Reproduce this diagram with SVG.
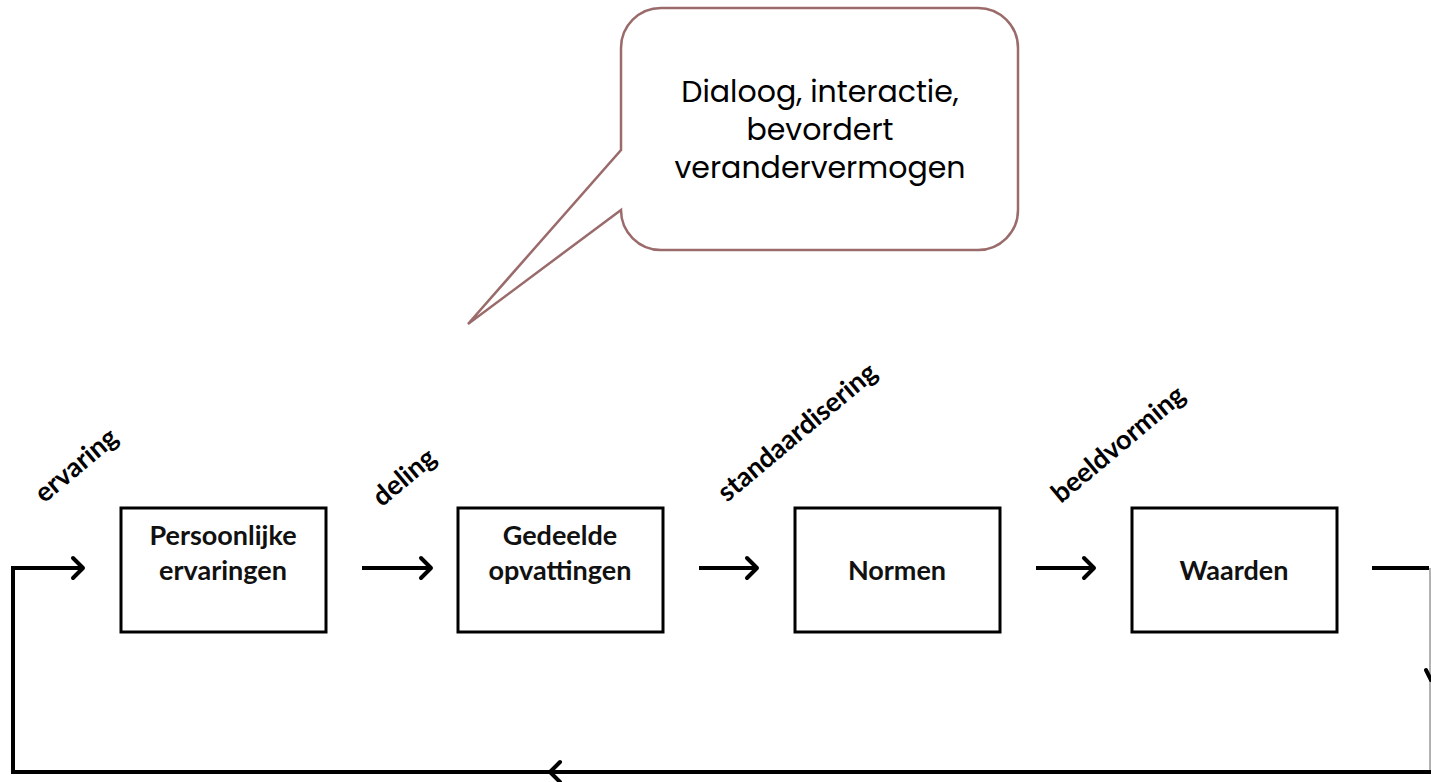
<svg xmlns="http://www.w3.org/2000/svg" width="1431" height="782" viewBox="0 0 1431 782">
<defs>
<style>
.box{fill:#fff;stroke:#000;stroke-width:3}
.lbl{font-family:Lato,"Liberation Sans",sans-serif;font-weight:bold;font-size:27px;fill:#111;text-anchor:middle}
.rot{font-family:Lato,"Liberation Sans",sans-serif;font-weight:bold;font-size:27px;fill:#000;text-anchor:middle}
.ln{fill:none;stroke:#000;stroke-width:4}
.head{fill:none;stroke:#000;stroke-width:4;stroke-linecap:round;stroke-linejoin:round}
.call{fill:#fff;stroke:#9b6b6b;stroke-width:2.5}
.ctext{font-family:Poppins,"Open Sans","Liberation Sans",sans-serif;font-size:30px;fill:#000;text-anchor:middle}
</style>
</defs>
<rect width="1431" height="782" fill="#fff"/>
<g id="callout">
<path class="call" d="M661,8 H978 A40,40 0 0 1 1018,48 V210 A40,40 0 0 1 978,250 H661 A40,40 0 0 1 621,210 L468,324 L621,150 V48 A40,40 0 0 1 661,8 Z"/>
<text class="ctext" x="820" y="102">Dialoog, interactie,</text>
<text class="ctext" x="820" y="140">bevordert</text>
<text class="ctext" x="820" y="178">verandervermogen</text>
</g>
<g id="connectors">
<path class="ln" d="M1372,568 H1429"/>
<path d="M1430,568 V772" stroke="#999" stroke-width="1.5" fill="none"/>
<path class="head" d="M1426,670 L1431,680"/>
<path class="ln" d="M1431,772 H13 V568 H83"/>
<path class="head" d="M73,558 L83,568 L73,578"/>
<path class="head" d="M560,762 L550,772 L560,782"/>
<path class="ln" d="M362,568 H431"/>
<path class="head" d="M421,558 L431,568 L421,578"/>
<path class="ln" d="M699,568 H757"/>
<path class="head" d="M747,558 L757,568 L747,578"/>
<path class="ln" d="M1036,568 H1094"/>
<path class="head" d="M1084,558 L1094,568 L1084,578"/>
</g>
<g id="n1"><rect class="box" x="121" y="508" width="205" height="124"/><text class="lbl" x="223" y="545">Persoonlijke</text><text class="lbl" x="223" y="580">ervaringen</text></g>
<g id="n2"><rect class="box" x="458" y="508" width="205" height="124"/><text class="lbl" x="560" y="545">Gedeelde</text><text class="lbl" x="560" y="580">opvattingen</text></g>
<g id="n3"><rect class="box" x="795" y="508" width="205" height="124"/><text class="lbl" x="897" y="580">Normen</text></g>
<g id="n4"><rect class="box" x="1132" y="508" width="205" height="124"/><text class="lbl" x="1234" y="580">Waarden</text></g>
<g id="labels">
<text class="rot" transform="translate(82,472) rotate(-40)">ervaring</text>
<text class="rot" transform="translate(410,484) rotate(-40)">deling</text>
<text class="rot" transform="translate(803,439) rotate(-40)">standaardisering</text>
<text class="rot" transform="translate(1124,451) rotate(-40)">beeldvorming</text>
</g>
</svg>
